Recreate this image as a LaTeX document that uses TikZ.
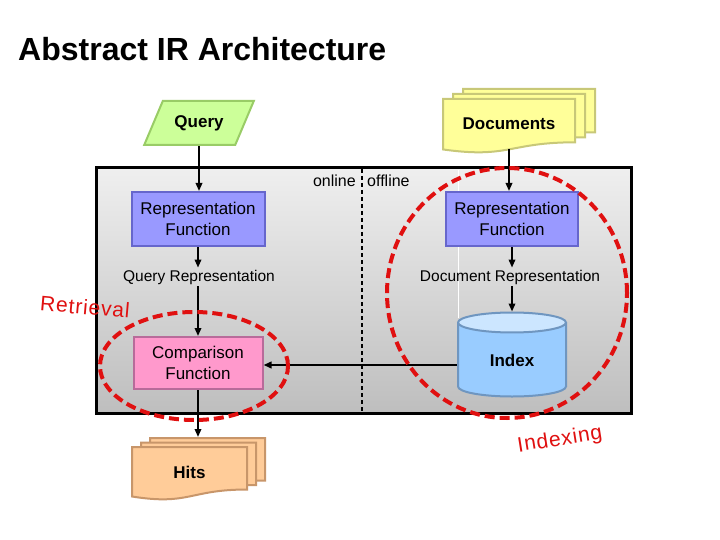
\documentclass[tikz,border=0pt]{standalone}
\usepackage{fontspec}
\setmainfont{Liberation Sans}
\usetikzlibrary{arrows.meta,positioning,shapes.geometric,calc}

\definecolor{repfill}{HTML}{9999FF}
\definecolor{repline}{HTML}{6666CC}
\definecolor{cmpfill}{HTML}{FF99CC}
\definecolor{cmpline}{HTML}{B86B9A}
\definecolor{qryfill}{HTML}{CCFF99}
\definecolor{qryline}{HTML}{99CC66}
\definecolor{docfill}{HTML}{FFFF99}
\definecolor{docline}{HTML}{C8C878}
\definecolor{hitfill}{HTML}{FFCC99}
\definecolor{hitline}{HTML}{C8966A}
\definecolor{idxfill}{HTML}{99CCFF}
\definecolor{idxtop}{HTML}{CCE6FF}
\definecolor{idxline}{HTML}{6F96C0}
\definecolor{ringred}{HTML}{E01010}
\definecolor{boxtop}{HTML}{EFEFEF}
\definecolor{boxbot}{HTML}{BEBEBE}

% three sheets with a wavy foot, back to front: x, y, w, h, dx, style
\newcommand\sheets[6]{%
  \foreach \k in {2,1,0}
    \draw[#6] (#1+\k*#5,#2-\k*#5/2) -- ++(#3,0) -- ++(0,0.802*#4)
      .. controls (#1+\k*#5+0.5*#3,#2-\k*#5/2+0.802*#4) and (#1+\k*#5+0.5*#3,#2-\k*#5/2+1.107*#4)
      .. (#1+\k*#5,#2-\k*#5/2+0.934*#4) -- cycle;}

\begin{document}
\begin{tikzpicture}[x=1pt, y=-1pt, >={Triangle[length=8pt,width=6.5pt]},
  fn/.style={draw, line width=2pt, align=center, inner sep=0pt, font=\fontsize{17}{21}\selectfont},
  bold/.style={font=\bfseries\fontsize{17}{20}\selectfont},
  lbl/.style={inner sep=2pt, font=\fontsize{15.5}{18}\selectfont},
  ring/.style={draw=ringred, line width=4pt, dash pattern=on 10pt off 5pt},
  tag/.style={text=ringred, inner sep=0pt, font=\fontsize{21}{24}\selectfont\addfontfeature{LetterSpace=4}},
  flow/.style={->, line width=1.8pt}]
\useasboundingbox[fill=white] (0,0) rectangle (720,540);

\node[anchor=base west, inner sep=0pt, font=\bfseries\fontsize{32}{36}\selectfont] (title) at (18,61) {Abstract IR Architecture};

% online / offline area
\path[top color=boxtop, bottom color=boxbot, draw=black, line width=3pt] (96,168) rectangle (631,413);
\draw[white, line width=1pt] (458,170) -- (458,318);
\draw[line width=1.5pt, dash pattern=on 4pt off 3pt] (362,169) -- (362,412);
\node[anchor=east, lbl, font=\fontsize{16}{18}\selectfont] (on) at (358,181) {online};
\node[anchor=west, lbl, font=\fontsize{16}{18}\selectfont] (off) at (365,181) {offline};

% inputs
\node[trapezium, trapezium left angle=57, trapezium right angle=123, trapezium stretches=true,
  draw=qryline, fill=qryfill, line width=2pt, minimum width=110pt, minimum height=44pt, bold] (qry) at (199,123) {Query};
\sheets{443}{99}{132}{54}{10}{draw=docline, fill=docfill, line width=2pt}
\node[bold, minimum width=132pt, minimum height=50pt, inner sep=0pt] (docs) at (509,124) {Documents};

% functions
\node[fn, fill=repfill, draw=repline, minimum width=133pt, minimum height=54pt] (repL) at (198,219) {Representation\\Function};
\node[fn, fill=repfill, draw=repline, minimum width=132pt, minimum height=54pt] (repR) at (512,219) {Representation\\Function};
\node[lbl] (qrep) at (199,277) {Query Representation};
\node[lbl] (drep) at (510,277) {Document Representation};
\node[fn, fill=cmpfill, draw=cmpline, minimum width=129pt, minimum height=52pt] (cmp) at (198,363) {Comparison\\Function};
\node[cylinder, shape border rotate=90, aspect=0.45, draw=idxline, line width=2pt, minimum width=108pt, minimum height=84pt,
  cylinder uses custom fill, cylinder body fill=idxfill, cylinder end fill=idxtop, inner sep=0pt, bold] (idx) at (512,360) {Index};

% output
\sheets{132}{447}{115}{53}{9}{draw=hitline, fill=hitfill, line width=2pt}
\node[bold, minimum width=115pt, minimum height=50pt, inner sep=0pt] (hits) at (189.5,472) {Hits};
\coordinate (hitsTop) at (198,437);

\draw[flow] (qry.south) -- (qry.south |- repL.north);
\draw[flow] (docs.south) -- (docs.south |- repR.north);
\draw[flow] (repL.south) -- (repL.south |- qrep.north);
\draw[flow] (qrep.south -| repL.south) -- (repL.south |- cmp.north);
\draw[flow] (repR.south) -- (repR.south |- drep.north);
\draw[flow] (drep.south -| repR.south) -- (repR.south |- idx.north);
\draw[->, line width=2.5pt] (idx.west |- 0,365) -- (cmp.east |- 0,365);
\draw[flow] (cmp.south) -- (hitsTop);

% phases
\draw[ring] (194,366) ellipse [x radius=94pt, y radius=54pt];
\draw[ring] (507,293) ellipse [x radius=120pt, y radius=125pt];
\node[tag, rotate=-5] (retr) at (85,307) {Retrieval};
\node[tag, rotate=9] (indx) at (560,440) {Indexing};
\end{tikzpicture}
\end{document}
